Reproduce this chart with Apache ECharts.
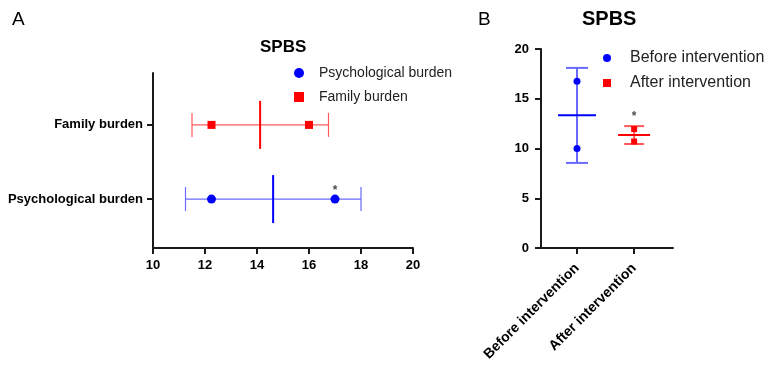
<!DOCTYPE html>
<html>
<head>
<meta charset="utf-8">
<script src="https://cdn.jsdelivr.net/npm/echarts@6/dist/echarts.min.js"></script>
<style>
  html, body { margin: 0; padding: 0; background: #fff; }
  #main { width: 765px; height: 371px; }
</style>
</head>
<body>
<div id="main"></div>
<script>
// Panel A: horizontal rows (y = row position)
const rowsA = ['Psychological burden', 'Family burden'];
const rowPosA = [1, 2];
const psychPoints = [[12.25, 1], [17.0, 1]];
const familyPoints = [[12.25, 2], [16.0, 2]];
// [mean, low, high, row]
const psychSummary = [[14.62, 11.25, 18.0, 1]];
const familySummary = [[14.12, 11.5, 16.75, 2]];
const xTicksA = [10, 12, 14, 16, 18, 20];

// Panel B: vertical groups (x = group position)
const groupsB = ['Before intervention', 'After intervention'];
const groupPosB = [1, 2];
const beforePoints = [[1, 16.75], [1, 10.0]];
const afterPoints = [[2, 11.95], [2, 10.7]];
// [group, mean, low, high]
const beforeSummary = [[1, 13.35, 8.55, 18.1]];
const afterSummary = [[2, 11.35, 10.45, 12.25]];

// significance marks
const starA = [[17.0, 1]];
const starB = [[2, 12.25]];

const FONT = 'Liberation Sans, Arial, sans-serif';
const INK = '#000';
const BLUE = '#0000ff';
const RED = '#ff0000';
const BLUE_LIGHT = '#6a6aff';
const RED_LIGHT = '#ff5a5a';

const chart = echarts.init(document.getElementById('main'));

// horizontal error bar with vertical mean line (panel A)
function renderHBar(color, light) {
  return function (params, api) {
    const mean = api.value(0), lo = api.value(1), hi = api.value(2), row = api.value(3);
    const pLo = api.coord([lo, row]);
    const pHi = api.coord([hi, row]);
    const pM = api.coord([mean, row]);
    const cap = 12, half = 24;
    const thin = { stroke: light, lineWidth: 1.2 };
    return {
      type: 'group',
      children: [
        { type: 'line', shape: { x1: pLo[0], y1: pLo[1], x2: pHi[0], y2: pHi[1] }, style: thin },
        { type: 'line', shape: { x1: pLo[0], y1: pLo[1] - cap, x2: pLo[0], y2: pLo[1] + cap }, style: thin },
        { type: 'line', shape: { x1: pHi[0], y1: pHi[1] - cap, x2: pHi[0], y2: pHi[1] + cap }, style: thin },
        { type: 'line', shape: { x1: pM[0], y1: pM[1] - half, x2: pM[0], y2: pM[1] + half }, style: { stroke: color, lineWidth: 2 } }
      ]
    };
  };
}

// vertical error bar with horizontal mean line (panel B)
function renderVBar(color, light, capW, meanW) {
  return function (params, api) {
    const g = api.value(0), mean = api.value(1), lo = api.value(2), hi = api.value(3);
    const pLo = api.coord([g, lo]);
    const pHi = api.coord([g, hi]);
    const pM = api.coord([g, mean]);
    const bar = { stroke: light, lineWidth: 2 };
    return {
      type: 'group',
      children: [
        { type: 'line', shape: { x1: pLo[0], y1: pLo[1], x2: pHi[0], y2: pHi[1] }, style: bar },
        { type: 'line', shape: { x1: pLo[0] - capW, y1: pLo[1], x2: pLo[0] + capW, y2: pLo[1] }, style: bar },
        { type: 'line', shape: { x1: pHi[0] - capW, y1: pHi[1], x2: pHi[0] + capW, y2: pHi[1] }, style: bar },
        { type: 'line', shape: { x1: pM[0] - meanW, y1: pM[1], x2: pM[0] + meanW, y2: pM[1] }, style: { stroke: color, lineWidth: 2 } }
      ]
    };
  };
}

const axisLine = { show: true, lineStyle: { color: '#1a1a1a', width: 2 } };
const axisTick = { show: true, length: 6, lineStyle: { color: '#1a1a1a', width: 2 } };

const option = {
  backgroundColor: '#fff',
  animation: false,
  textStyle: { fontFamily: FONT },

  title: [
    { text: 'A', left: 7, top: 5, textStyle: { fontSize: 19, fontWeight: 'normal', color: INK, fontFamily: FONT } },
    { text: 'SPBS', left: 255, top: 34, textStyle: { fontSize: 17, fontWeight: 'bold', color: INK, fontFamily: FONT } },
    { text: 'B', left: 473, top: 5, textStyle: { fontSize: 19, fontWeight: 'normal', color: INK, fontFamily: FONT } },
    { text: 'SPBS', left: 577, top: 4, textStyle: { fontSize: 20, fontWeight: 'bold', color: INK, fontFamily: FONT } }
  ],

  legend: [
    {
      data: [
        { name: 'Psychological burden', icon: 'circle' },
        { name: 'Family burden', icon: 'rect' }
      ],
      orient: 'vertical',
      left: 289,
      top: 60,
      itemWidth: 10,
      itemHeight: 10,
      itemGap: 8,
      textStyle: { fontSize: 14, lineHeight: 16, color: '#222', fontFamily: FONT, padding: [0, 0, 0, 10] }
    },
    {
      data: [
        { name: 'Before intervention', icon: 'circle' },
        { name: 'After intervention', icon: 'rect' }
      ],
      orient: 'vertical',
      left: 598,
      top: 44,
      itemWidth: 8,
      itemHeight: 8,
      itemGap: 7,
      textStyle: { fontSize: 16, lineHeight: 18, color: '#222', fontFamily: FONT, padding: [0, 0, 0, 14] }
    }
  ],

  grid: [
    { left: 153, right: 352, top: 73, bottom: 123 },
    { left: 541, right: 92, top: 49, bottom: 123 }
  ],

  xAxis: [
    {
      type: 'value',
      gridIndex: 0,
      min: 10,
      max: 20,
      interval: 2,
      axisLine: axisLine,
      axisTick: axisTick,
      splitLine: { show: false },
      axisLabel: {
        color: INK, fontSize: 13, fontWeight: 'bold', margin: 11,
        customValues: xTicksA
      }
    },
    {
      type: 'value',
      gridIndex: 1,
      min: 0.37,
      max: 2.68,
      axisLine: axisLine,
      axisTick: Object.assign({}, axisTick, { customValues: groupPosB }),
      splitLine: { show: false },
      axisLabel: {
        customValues: groupPosB,
        formatter: (v) => groupsB[groupPosB.indexOf(Math.round(v))] || '',
        rotate: 45,
        color: INK, fontSize: 14, fontWeight: 'bold', margin: 18
      }
    }
  ],

  yAxis: [
    {
      type: 'value',
      gridIndex: 0,
      min: 0.34,
      max: 2.7,
      axisLine: axisLine,
      axisTick: Object.assign({}, axisTick, { customValues: rowPosA }),
      splitLine: { show: false },
      axisLabel: {
        customValues: rowPosA,
        formatter: (v) => rowsA[rowPosA.indexOf(Math.round(v))] || '',
        color: INK, fontSize: 13, fontWeight: 'bold', margin: 10
      }
    },
    {
      type: 'value',
      gridIndex: 1,
      min: 0,
      max: 20,
      interval: 5,
      axisLine: axisLine,
      axisTick: axisTick,
      splitLine: { show: false },
      axisLabel: { color: INK, fontSize: 13, fontWeight: 'bold', margin: 12 }
    }
  ],

  series: [
    {
      type: 'custom',
      xAxisIndex: 0, yAxisIndex: 0,
      renderItem: renderHBar(RED, RED_LIGHT),
      data: familySummary,
      silent: true, z: 1
    },
    {
      type: 'custom',
      xAxisIndex: 0, yAxisIndex: 0,
      renderItem: renderHBar(BLUE, BLUE_LIGHT),
      data: psychSummary,
      silent: true, z: 1
    },
    {
      name: 'Psychological burden',
      type: 'scatter',
      xAxisIndex: 0, yAxisIndex: 0,
      data: psychPoints,
      symbol: 'circle', symbolSize: 9,
      itemStyle: { color: BLUE, opacity: 1 },
      z: 3
    },
    {
      name: 'Family burden',
      type: 'scatter',
      xAxisIndex: 0, yAxisIndex: 0,
      data: familyPoints,
      symbol: 'rect', symbolSize: 8,
      itemStyle: { color: RED, opacity: 1 },
      z: 3
    },
    {
      type: 'scatter',
      xAxisIndex: 0, yAxisIndex: 0,
      data: starA,
      symbolSize: 0,
      label: { show: true, formatter: '*', position: 'top', distance: 2, color: '#222', fontSize: 12, fontWeight: 'bold' },
      silent: true
    },
    {
      type: 'custom',
      xAxisIndex: 1, yAxisIndex: 1,
      renderItem: renderVBar(BLUE, BLUE_LIGHT, 11, 19),
      data: beforeSummary,
      silent: true, z: 1
    },
    {
      type: 'custom',
      xAxisIndex: 1, yAxisIndex: 1,
      renderItem: renderVBar(RED, RED_LIGHT, 10, 16),
      data: afterSummary,
      silent: true, z: 1
    },
    {
      name: 'Before intervention',
      type: 'scatter',
      xAxisIndex: 1, yAxisIndex: 1,
      data: beforePoints,
      symbol: 'circle', symbolSize: 7,
      itemStyle: { color: BLUE, opacity: 1 },
      z: 3
    },
    {
      name: 'After intervention',
      type: 'scatter',
      xAxisIndex: 1, yAxisIndex: 1,
      data: afterPoints,
      symbol: 'rect', symbolSize: 6,
      itemStyle: { color: RED, opacity: 1 },
      z: 3
    },
    {
      type: 'scatter',
      xAxisIndex: 1, yAxisIndex: 1,
      data: starB,
      symbolSize: 0,
      label: { show: true, formatter: '*', position: 'top', distance: 3, color: '#222', fontSize: 12, fontWeight: 'bold' },
      silent: true
    }
  ]
};

chart.setOption(option);
</script>
</body>
</html>
